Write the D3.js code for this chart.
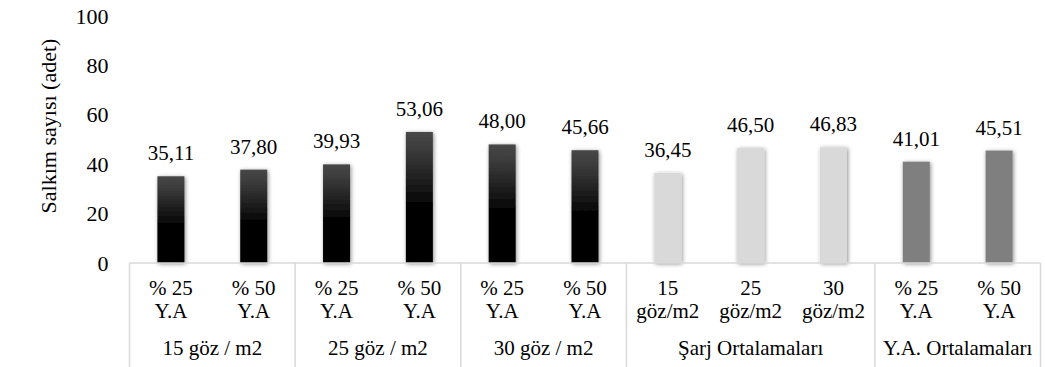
<!DOCTYPE html>
<html>
<head>
<meta charset="utf-8">
<script src="https://cdn.jsdelivr.net/npm/d3@7"></script>
<style>
  html, body { margin: 0; padding: 0; background: #fff; }
  svg { display: block; }
  svg text { font-family: "Liberation Serif", "Times New Roman", Tinos, serif !important; }
</style>
</head>
<body>
<svg id="chart" width="1045" height="367" font-family="Liberation Serif"></svg>
<script>
// Category labels (two lines each) and their parent groups
const catLine1 = ["% 25", "% 50", "% 25", "% 50", "% 25", "% 50", "15", "25", "30", "% 25", "% 50"];
const catLine2 = ["Y.A", "Y.A", "Y.A", "Y.A", "Y.A", "Y.A", "göz/m2", "göz/m2", "göz/m2", "Y.A", "Y.A"];
const groupNames = ["15 göz / m2", "25 göz / m2", "30 göz / m2", "Şarj Ortalamaları", "Y.A. Ortalamaları"];
const groupSizes = [2, 2, 2, 3, 2];
// Salkım sayısı values
const values = [35.11, 37.80, 39.93, 53.06, 48.00, 45.66, 36.45, 46.50, 46.83, 41.01, 45.51];
const labels = ["35,11", "37,80", "39,93", "53,06", "48,00", "45,66", "36,45", "46,50", "46,83", "41,01", "45,51"];
// Fill style per bar: black gradient, light grey, mid grey
const barStyle = ["dark", "dark", "dark", "dark", "dark", "dark", "light", "light", "light", "mid", "mid"];
const yTicks = [0, 20, 40, 60, 80, 100];

const FONT = '"Liberation Serif", "Times New Roman", Tinos, serif';
const serif = (sel, size) => sel
  .attr("font-family", "Liberation Serif")
  .style("font-family", FONT)
  .style("font-size", size + "px")
  .attr("fill", "#000");

const svg = d3.select("#chart");
const plotLeft = 129.5, plotRight = 1040.5, plotTop = 16, plotBottom = 263;

const idx = d3.range(values.length);
const x = d3.scaleBand().domain(idx).range([plotLeft, plotRight]).paddingInner(0).paddingOuter(0);
const y = d3.scaleLinear().domain([0, 100]).range([plotBottom, plotTop]);

const defs = svg.append("defs");
const grad = defs.append("linearGradient").attr("id", "darkGrad")
  .attr("x1", 0).attr("y1", 0).attr("x2", 0).attr("y2", 1);
[[0, "#474747"], [10, "#3f3f3f"], [20, "#333"], [30, "#272727"], [40, "#1a1a1a"],
 [50, "#0c0c0c"], [58, "#000"], [100, "#000"]].forEach(([o, c]) =>
  grad.append("stop").attr("offset", o + "%").attr("stop-color", c));

const shadow = defs.append("filter").attr("id", "shadow")
  .attr("x", "-50%").attr("y", "-20%").attr("width", "200%").attr("height", "140%");
shadow.append("feDropShadow").attr("dx", 1).attr("dy", 1).attr("stdDeviation", 2)
  .attr("flood-color", "#000").attr("flood-opacity", 0.45);

const fills = { dark: "url(#darkGrad)", light: "#d9d9d9", mid: "#7f7f7f" };

// Y axis tick labels
const yAxis = d3.axisLeft(y).tickValues(yTicks).tickSize(0).tickPadding(0);
const yg = svg.append("g").attr("transform", `translate(${plotLeft - 21},0)`).call(yAxis);
yg.attr("font-family", "Liberation Serif");
yg.select(".domain").remove();
yg.selectAll("text").call(serif, 22);

// Y axis title
svg.append("text")
  .attr("transform", "translate(48,126) rotate(-90)")
  .attr("dy", "0.35em")
  .attr("text-anchor", "middle")
  .call(serif, 22)
  .text("Salkım sayısı (adet)");

// Bars
const barW = x.bandwidth() * 0.326;
svg.append("g").selectAll("rect").data(idx).join("rect")
  .attr("x", i => x(i) + (x.bandwidth() - barW) / 2)
  .attr("y", i => y(values[i]))
  .attr("width", barW)
  .attr("height", i => y(0) - y(values[i]))
  .attr("fill", i => fills[barStyle[i]])
  .attr("filter", "url(#shadow)");

// Value labels
svg.append("g").selectAll("text").data(idx).join("text")
  .attr("x", i => x(i) + x.bandwidth() / 2)
  .attr("y", i => y(values[i]) - 16)
  .attr("text-anchor", "middle")
  .call(serif, 21)
  .text(i => labels[i]);

// Horizontal axis line
svg.append("line")
  .attr("x1", plotLeft).attr("x2", plotRight).attr("y1", plotBottom).attr("y2", plotBottom)
  .attr("stroke", "#d9d9d9").attr("stroke-width", 1.5);

// Group boundaries
const starts = [0];
groupSizes.forEach((s, k) => starts.push(starts[k] + s));
const boundaryX = starts.map(s => s < values.length ? x(s) : plotRight);
svg.append("g").selectAll("line").data(boundaryX).join("line")
  .attr("x1", d => d).attr("x2", d => d)
  .attr("y1", plotBottom).attr("y2", 367)
  .attr("stroke", "#d9d9d9").attr("stroke-width", 1.5);

// Category labels
const cat = svg.append("g").attr("text-anchor", "middle");
cat.selectAll("text.l1").data(idx).join("text").attr("class", "l1")
  .attr("x", i => x(i) + x.bandwidth() / 2).attr("y", 295)
  .call(serif, 21)
  .text(i => catLine1[i]);
cat.selectAll("text.l2").data(idx).join("text").attr("class", "l2")
  .attr("x", i => x(i) + x.bandwidth() / 2).attr("y", 318)
  .call(serif, 21)
  .text(i => catLine2[i]);

// Group labels
cat.selectAll("text.g").data(groupNames).join("text").attr("class", "g")
  .attr("x", (d, k) => (boundaryX[k] + boundaryX[k + 1]) / 2)
  .attr("y", 355)
  .call(serif, 21)
  .text(d => d);
</script>
</body>
</html>
